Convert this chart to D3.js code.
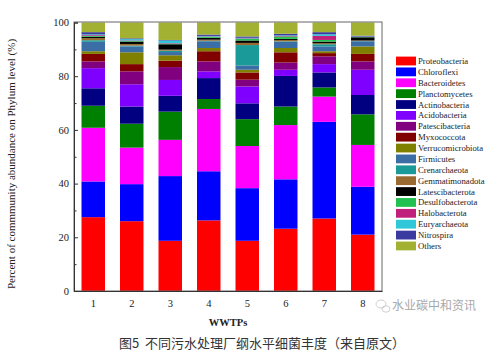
<!DOCTYPE html>
<meta charset="utf-8">
<title>Phylum abundance</title>
<body style="margin:0;background:#fff">
<svg width=494 height=362></svg>
<script src="https://d3js.org/d3.v7.min.js"></script>
<script>
    // ---------------- data (%) ----------------
    const categories = ["1","2","3","4","5","6","7","8"];
    const phyla = ["Proteobacteria","Chloroflexi","Bacteroidetes","Planctomycetes","Actinobacteria",
        "Acidobacteria","Patescibacteria","Myxococcota","Verrucomicrobiota","Firmicutes","Crenarchaeota",
        "Gemmatimonadota","Latescibacterota","Desulfobacterota","Halobacterota","Euryarchaeota","Nitrospira","Others"];
    const colors = ["#ff0000","#0000ff","#ff00ff","#008000","#000080","#8000ff","#800080","#800000","#808000",
        "#3a6ea5","#1b9a9a","#9a6a30","#000000","#22c050","#c0207a","#30c8d8","#3a3aa0","#a3b132"];

    const proteobacteria    = [27.5, 26.0, 18.7, 26.3, 18.7, 23.2, 27.0, 21.0];
    const chloroflexi       = [13.3, 13.8, 24.1, 18.3, 19.6, 18.4, 36.0, 17.8];
    const bacteroidetes     = [20.0, 13.6, 13.5, 23.2, 15.7, 20.2,  9.4, 15.6];
    const planctomycetes    = [ 8.2,  8.9, 10.5,  3.7, 10.0,  6.9,  3.4, 11.4];
    const actinobacteria    = [ 6.5,  6.4,  5.9,  7.8,  5.9, 11.4,  5.6,  7.2];
    const acidobacteria     = [ 7.5,  8.3,  5.9,  2.5,  6.3,  2.3,  3.1,  9.4];
    const patescibacteria   = [ 2.5,  4.8,  4.8,  3.7,  2.5,  2.7,  2.9,  3.1];
    const myxococcota       = [ 2.8,  2.7,  2.4,  3.8,  2.7,  3.8,  1.2,  2.8];
    const verrucomicrobiota = [ 1.0,  4.4,  2.0,  1.2,  1.0,  1.6,  0.7,  2.8];
    const firmicutes        = [ 3.5,  2.2,  1.2,  2.5,  1.6,  2.3,  1.8,  1.9];
    const crenarchaeota     = [ 0.6,  0.3,  0.5,  0.2,  7.6,  0.2,  0.8,  0.1];
    const gemmatimonadota   = [ 0.8,  0.6,  0.4,  0.4,  0.8,  0.5,  0.4,  0.2];
    const latescibacterota  = [ 0.5,  0.9,  2.0,  0.7,  0.9,  0.4,  0.6,  1.2];
    const desulfobacterota  = [ 0.3,  0.2,  0.2,  0.3,  0.6,  0.9,  0.6,  0.1];
    const halobacterota     = [ 0.3,  0.2,  0.2,  0.2,  0.2,  0.2,  1.5,  0.1];
    const euryarchaeota     = [ 0.3,  0.5,  1.0,  0.2,  0.2,  0.2,  0.6,  0.1];
    const nitrospira        = [ 0.8,  0.3,  0.2,  0.5,  0.5,  0.6,  0.8,  0.3];
    const others            = [ 3.6,  5.9,  6.5,  4.5,  5.2,  4.2,  3.6,  4.9];
    const yTicks = [0, 20, 40, 60, 80, 100];
    const yMinor = [10, 30, 50, 70, 90];

    const series = [proteobacteria, chloroflexi, bacteroidetes, planctomycetes, actinobacteria, acidobacteria,
        patescibacteria, myxococcota, verrucomicrobiota, firmicutes, crenarchaeota, gemmatimonadota,
        latescibacterota, desulfobacterota, halobacterota, euryarchaeota, nitrospira, others];

    const table = categories.map((c, i) => {
        const row = {site: c};
        phyla.forEach((p, j) => row[p] = series[j][i]);
        return row;
    });

    // ---------------- layout ----------------
    const svg = d3.select('svg');
    const mLeft = 74, mRight = 382, mTop = 22, mBottom = 291;
    const serif = "'Liberation Serif','Times New Roman',serif";

    const x = d3.scaleBand().domain(categories).range([mLeft, mRight]).paddingInner(0.39).paddingOuter(0.195);
    const y = d3.scaleLinear().domain([0, 100]).range([mBottom, mTop + 0.5]);
    const color = d3.scaleOrdinal().domain(phyla).range(colors);

    const stacked = d3.stack().keys(phyla)(table);

    svg.append('g')
        .selectAll('g')
        .data(stacked)
        .join('g')
        .attr('fill', d => color(d.key))
        .selectAll('rect')
        .data(d => d)
        .join('rect')
        .attr('x', d => x(d.data.site))
        .attr('width', x.bandwidth())
        .attr('y', d => y(d[1]))
        .attr('height', d => y(d[0]) - y(d[1]));

    // frame
    svg.append('rect')
        .attr('x', mLeft).attr('y', mTop)
        .attr('width', mRight - mLeft).attr('height', mBottom - mTop)
        .attr('fill', 'none').attr('stroke', '#666').attr('stroke-width', 1);

    // y axis, ticks inward like Origin
    const yAxis = svg.append('g')
        .attr('transform', `translate(${mLeft},0)`)
        .call(d3.axisLeft(y).tickValues(yTicks).tickSize(-4).tickPadding(5));
    yAxis.select('.domain').attr('stroke', '#333');
    yAxis.selectAll('line').attr('stroke', '#333');
    yAxis.selectAll('text').attr('font-family', serif).attr('font-size', 10.5).attr('fill', '#222');

    svg.append('g')
        .attr('transform', `translate(${mLeft},0)`)
        .call(d3.axisLeft(y).tickValues(yMinor).tickSize(-2.5).tickFormat(''))
        .call(g => g.select('.domain').remove())
        .selectAll('line').attr('stroke', '#333');

    const xAxis = svg.append('g')
        .attr('transform', `translate(0,${mBottom})`)
        .call(d3.axisBottom(x).tickSize(0).tickPadding(9));
    xAxis.select('.domain').attr('stroke', '#333');
    xAxis.selectAll('text').attr('font-family', serif).attr('font-size', 10.5).attr('fill', '#222');

    // axis titles
    svg.append('text')
        .attr('transform', 'translate(15,164) rotate(-90)')
        .attr('text-anchor', 'middle')
        .attr('font-family', serif).attr('font-size', 11).attr('fill', '#222')
        .text('Percent of commmunity abundance on Phylum level (%)');

    svg.append('text')
        .attr('x', (mLeft + mRight) / 2).attr('y', 326)
        .attr('text-anchor', 'middle')
        .attr('font-family', serif).attr('font-size', 10.5).attr('font-weight', 'bold').attr('fill', '#222')
        .text('WWTPs');

    // legend
    const legend = svg.append('g')
        .selectAll('g')
        .data(phyla)
        .join('g')
        .attr('transform', (d, i) => `translate(396,${61 + i * 10.88})`);
    legend.append('rect')
        .attr('x', 0).attr('y', -4.4).attr('width', 20).attr('height', 8.8)
        .attr('fill', d => color(d));
    legend.append('text')
        .attr('x', 22).attr('y', 3)
        .attr('font-family', serif).attr('font-size', 8.7).attr('fill', '#222')
        .text(d => d);

    // caption
    svg.append('text')
        .attr('x', 119).attr('y', 348)
        .style('white-space', 'pre')
        .attr('font-family', "'Noto Sans CJK SC',sans-serif").attr('font-size', 13).attr('fill', '#333')
        .text('图5  不同污水处理厂纲水平细菌丰度（来自原文）');

    // watermark
    const wm = svg.append('g').attr('fill', 'none').attr('stroke', '#c4c4c4').attr('stroke-width', 0.8);
    wm.append('ellipse').attr('cx', 381).attr('cy', 304).attr('rx', 5).attr('ry', 4);
    wm.append('ellipse').attr('cx', 386).attr('cy', 309).attr('rx', 4).attr('ry', 3.2);
    svg.append('text')
        .attr('x', 392).attr('y', 310)
        .attr('font-family', "'Noto Sans CJK SC',sans-serif").attr('font-size', 12).attr('fill', '#a8a8a8')
        .text('水业碳中和资讯');
</script>
